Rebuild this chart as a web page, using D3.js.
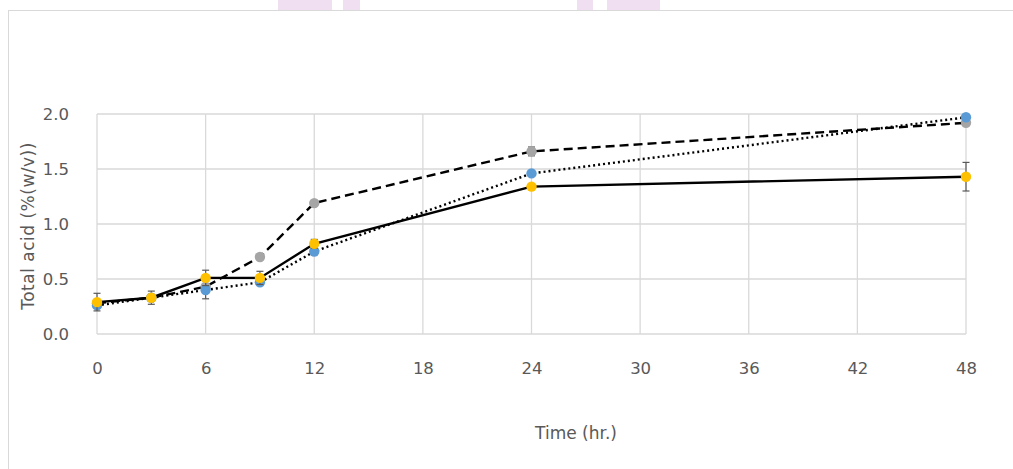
<!DOCTYPE html>
<html>
<head>
<meta charset="utf-8">
<script src="https://cdn.jsdelivr.net/npm/d3@7"></script>
<style>
  html, body { margin: 0; padding: 0; background: #fff; }
  svg { display: block; }
  text { font-family: "DejaVu Sans", "Noto Sans", sans-serif; fill: #595959; }
</style>
</head>
<body>
<svg id="chart" width="1013" height="469"></svg>
<script>
// Sampling times (hours)
const hours = [0, 3, 6, 9, 12, 24, 48];

// Total acid, % (w/v), three treatments
const seriesSolid  = [0.29, 0.33, 0.51, 0.51, 0.82, 1.34, 1.43];
const seriesDotted = [0.26, 0.33, 0.40, 0.47, 0.75, 1.46, 1.97];
const seriesDashed = [0.28, 0.33, 0.43, 0.70, 1.19, 1.66, 1.92];

// Standard deviations (error bars)
const errSolid  = [0.08, 0.00, 0.07, 0.06, 0.04, 0.00, 0.13];
const errDotted = [0.00, 0.00, 0.08, 0.00, 0.00, 0.00, 0.00];
const errDashed = [0.00, 0.06, 0.00, 0.00, 0.00, 0.04, 0.00];

// Axis ticks
const xTicks = [0, 6, 12, 18, 24, 30, 36, 42, 48];
const yTicks = [0.0, 0.5, 1.0, 1.5, 2.0];

const svg = d3.select("#chart");

// Page header strip and outer frame
const header = [[278, 54], [343, 17], [577, 16], [607, 53]];
svg.selectAll("rect.hdr").data(header).join("rect")
  .attr("class", "hdr")
  .attr("x", d => d[0]).attr("y", 0)
  .attr("width", d => d[1]).attr("height", 18)
  .attr("fill", "#efdff0");

svg.append("rect")
  .attr("x", 8.5).attr("y", 10.5)
  .attr("width", 1013).attr("height", 470)
  .attr("fill", "#fff")
  .attr("stroke", "#d9d9d9");

const x = d3.scaleLinear().domain([0, 48]).range([97, 966]);
const y = d3.scaleLinear().domain([0, 2]).range([334, 114]);

// Gridlines
const grid = svg.append("g");
grid.selectAll("line.h").data(yTicks).join("line")
  .attr("x1", x(0)).attr("x2", x(48))
  .attr("y1", d => y(d)).attr("y2", d => y(d))
  .attr("stroke", "#d9d9d9").attr("stroke-width", 1.3);
grid.selectAll("line.v").data(xTicks).join("line")
  .attr("y1", y(0)).attr("y2", y(2))
  .attr("x1", d => x(d)).attr("x2", d => x(d))
  .attr("stroke", "#d9d9d9").attr("stroke-width", 1.3);

// Axes (labels only)
const xAxis = svg.append("g")
  .attr("transform", `translate(0,${y(0)})`)
  .call(d3.axisBottom(x).tickValues(xTicks).tickSize(0).tickPadding(28).tickFormat(d3.format("d")));
xAxis.select(".domain").remove();
xAxis.selectAll("text").style("font-size", "16.5px").attr("fill", "#595959");

const yAxis = svg.append("g")
  .attr("transform", `translate(${x(0) - 28},0)`)
  .call(d3.axisLeft(y).tickValues(yTicks).tickSize(0).tickPadding(0).tickFormat(d3.format(".1f")));
yAxis.select(".domain").remove();
yAxis.selectAll("text").style("font-size", "16.5px").attr("fill", "#595959");

// Axis titles
svg.append("text")
  .attr("x", 576).attr("y", 439)
  .attr("text-anchor", "middle")
  .style("font-size", "17px")
  .text("Time (hr.)");

svg.append("text")
  .attr("transform", `translate(34,226) rotate(-90)`)
  .attr("text-anchor", "middle")
  .style("font-size", "17px")
  .style("letter-spacing", "0.5px")
  .text("Total acid (%(w/v))");

const series = [
  { vals: seriesDashed, err: errDashed, color: "#a5a5a5", dash: "9,5" },
  { vals: seriesDotted, err: errDotted, color: "#5b9bd5", dash: "2,3" },
  { vals: seriesSolid,  err: errSolid,  color: "#ffc000", dash: null }
];

const line = d3.line().x(d => x(d.t)).y(d => y(d.v));

series.forEach(s => {
  const pts = hours.map((t, i) => ({ t, v: s.vals[i], e: s.err[i] }));
  svg.append("path")
    .attr("d", line(pts))
    .attr("fill", "none")
    .attr("stroke", "#000")
    .attr("stroke-width", 2.4)
    .attr("stroke-dasharray", s.dash);
});

series.forEach(s => {
  const pts = hours.map((t, i) => ({ t, v: s.vals[i], e: s.err[i] }));
  const g = svg.append("g");
  const eb = pts.filter(d => d.e > 0);
  g.selectAll("line.eb").data(eb).join("line")
    .attr("x1", d => x(d.t)).attr("x2", d => x(d.t))
    .attr("y1", d => y(d.v - d.e)).attr("y2", d => y(d.v + d.e))
    .attr("stroke", "#595959").attr("stroke-width", 1.2);
  [1, -1].forEach(sign => {
    g.selectAll(null).data(eb).join("line")
      .attr("x1", d => x(d.t) - 3.5).attr("x2", d => x(d.t) + 3.5)
      .attr("y1", d => y(d.v + sign * d.e)).attr("y2", d => y(d.v + sign * d.e))
      .attr("stroke", "#595959").attr("stroke-width", 1.2);
  });
  g.selectAll("circle").data(pts).join("circle")
    .attr("cx", d => x(d.t)).attr("cy", d => y(d.v))
    .attr("r", 5.2)
    .attr("fill", s.color);
});
</script>
</body>
</html>
